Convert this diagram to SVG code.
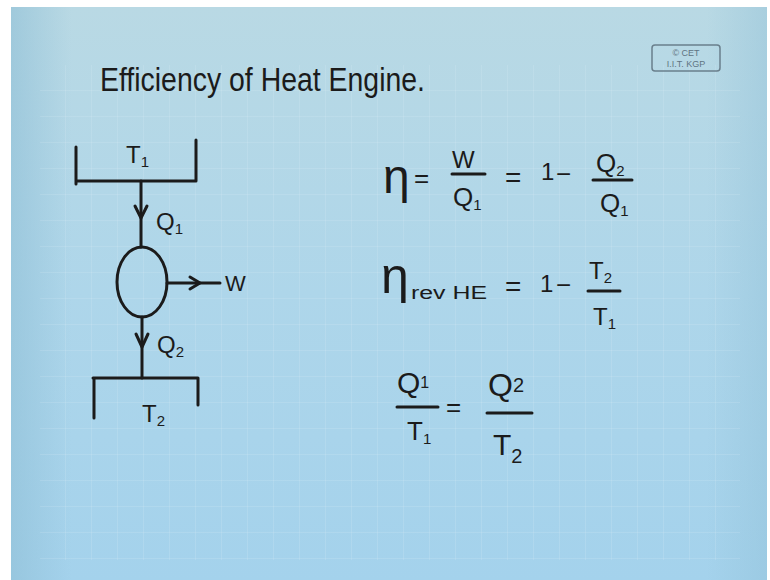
<svg xmlns="http://www.w3.org/2000/svg" width="770" height="580" viewBox="0 0 770 580">
<defs>
<linearGradient id="bg" x1="0" y1="0" x2="0" y2="1">
<stop offset="0" stop-color="#b9d9e4"/>
<stop offset="0.5" stop-color="#aed6ea"/>
<stop offset="1" stop-color="#a4d2ec"/>
</linearGradient>
<linearGradient id="side" x1="0" y1="0" x2="1" y2="0">
<stop offset="0" stop-color="#8fbfd6" stop-opacity="0.6"/>
<stop offset="0.08" stop-color="#8fbfd6" stop-opacity="0"/>
<stop offset="0.92" stop-color="#8fbfd6" stop-opacity="0"/>
<stop offset="1" stop-color="#8fbfd6" stop-opacity="0.4"/>
</linearGradient>
<pattern id="grid" x="40" y="65" width="26" height="26" patternUnits="userSpaceOnUse">
<path d="M26 0V26M0 26H26" fill="none" stroke="#e6f4fa" stroke-width="1" stroke-opacity="0.3"/>
</pattern>
</defs>
<style>
.ink{fill:none;stroke:#1b1b1b;stroke-width:3;stroke-linecap:round;stroke-linejoin:round}
.t{font-family:"Liberation Sans","DejaVu Sans",sans-serif;fill:#1b1b1b}
.bar{stroke:#1b1b1b;stroke-width:3;stroke-linecap:round}
.cet{font-family:"Liberation Sans",sans-serif;font-size:9px;fill:#5f7482;text-anchor:middle}
</style>
<rect width="770" height="580" fill="#ffffff"/>
<rect x="11" y="7" width="756" height="573" fill="url(#bg)"/>
<rect x="11" y="7" width="756" height="573" fill="url(#side)"/>
<rect x="40" y="65" width="700" height="495" fill="url(#grid)"/>

<g id="title">
<text class="t" x="100" y="91" font-size="34" textLength="325" lengthAdjust="spacingAndGlyphs">Efficiency of Heat Engine.</text>
</g>

<g id="cet-logo">
<rect x="652" y="45" width="68" height="26" rx="3" fill="none" stroke="#6a7f8c" stroke-width="1.5"/>
<text class="cet" x="686" y="56">© CET</text>
<text class="cet" x="686" y="67">I.I.T. KGP</text>
</g>

<g id="hot-reservoir">
<path class="ink" d="M76 147V184M77 181H196M196 140V181"/>
<text class="t" x="126" y="163" font-size="24">T<tspan font-size="15" dy="4">1</tspan></text>
</g>

<g id="engine">
<ellipse class="ink" cx="142" cy="282" rx="25" ry="35"/>
</g>

<g id="cold-reservoir">
<path class="ink" d="M94 418V379M93 378H198M198 378V405"/>
<text class="t" x="142" y="422" font-size="24">T<tspan font-size="15" dy="4">2</tspan></text>
</g>

<g id="work">
<text class="t" x="225" y="291" font-size="22">W</text>
</g>

<g id="connectors">
<path class="ink" d="M141 181V247"/>
<path class="ink" d="M135 206L141 218L147 206"/>
<text class="t" x="156" y="230" font-size="24">Q<tspan font-size="15" dy="4">1</tspan></text>
<path class="ink" d="M142 317V378"/>
<path class="ink" d="M136 334L142 347L148 334"/>
<text class="t" x="157" y="353" font-size="24">Q<tspan font-size="15" dy="4">2</tspan></text>
<path class="ink" d="M167 283H220"/>
<path class="ink" d="M190 277L200 283L190 289"/>
</g>

<g id="eq-efficiency">
<text class="t" x="383" y="193" font-size="48">η</text>
<text class="t" x="414" y="187" font-size="26">=</text>
<text class="t" x="452" y="168" font-size="24">W</text>
<line class="bar" x1="452" y1="174" x2="485" y2="174"/>
<text class="t" x="453" y="206" font-size="26">Q<tspan font-size="15" dy="4">1</tspan></text>
<text class="t" x="505" y="187" font-size="28">=</text>
<text class="t" x="541" y="180" font-size="24">1</text>
<text class="t" x="556" y="183" font-size="26">−</text>
<text class="t" x="596" y="172" font-size="26">Q<tspan font-size="15" dy="4">2</tspan></text>
<line class="bar" x1="593" y1="180" x2="632" y2="180"/>
<text class="t" x="600" y="212" font-size="26">Q<tspan font-size="15" dy="4">1</tspan></text>
</g>

<g id="eq-reversible">
<text class="t" x="381" y="293" font-size="50">η</text>
<text class="t" x="411" y="299" font-size="18" textLength="76" lengthAdjust="spacingAndGlyphs">rev HE</text>
<text class="t" x="505" y="296" font-size="28">=</text>
<text class="t" x="540" y="292" font-size="24">1</text>
<text class="t" x="556" y="294" font-size="26">−</text>
<text class="t" x="589" y="279" font-size="24">T<tspan font-size="15" dy="4">2</tspan></text>
<line class="bar" x1="588" y1="291" x2="620" y2="291"/>
<text class="t" x="593" y="325" font-size="24">T<tspan font-size="15" dy="4">1</tspan></text>
</g>

<g id="eq-ratio">
<text class="t" x="397" y="393" font-size="30">Q<tspan font-size="16" dy="-5">1</tspan></text>
<line class="bar" x1="397" y1="407" x2="438" y2="407"/>
<text class="t" x="407" y="440" font-size="26">T<tspan font-size="15" dy="4">1</tspan></text>
<text class="t" x="446" y="416" font-size="26">=</text>
<text class="t" x="488" y="396" font-size="32">Q<tspan font-size="20" dy="-4">2</tspan></text>
<line class="bar" x1="487" y1="413" x2="532" y2="413"/>
<text class="t" x="493" y="455" font-size="30">T<tspan font-size="20" dy="8">2</tspan></text>
</g>
</svg>
